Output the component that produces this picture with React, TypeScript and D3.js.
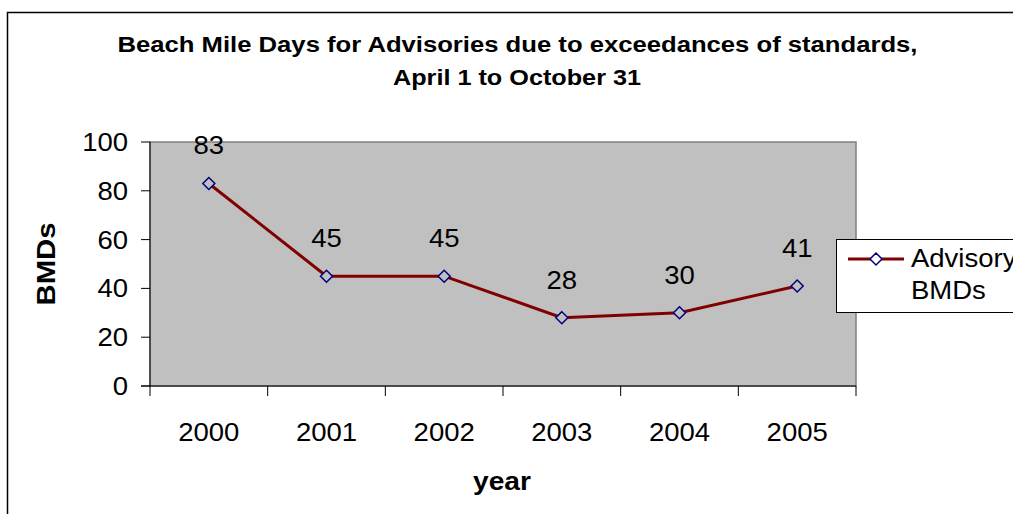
import React from "react";
import * as d3 from "d3";

const years = ["2000", "2001", "2002", "2003", "2004", "2005"];
const advisoryBMDs = [83, 45, 45, 28, 30, 41];
const yTicks = [0, 20, 40, 60, 80, 100];
const titleLines = [
  "Beach Mile Days for Advisories due to exceedances of standards,",
  "April 1 to October 31",
];
const seriesName = ["Advisory", "BMDs"];

const W = 1013;
const H = 514;
const plot = { left: 150, right: 856, top: 142, bottom: 386 };
const FONT = "Arial, 'Liberation Sans', Helvetica, sans-serif";
const SX = 1.1;
const FS = 25;

function T(props: {
  x: number;
  y: number;
  size?: number;
  anchor?: string;
  bold?: boolean;
  sx?: number;
  children: React.ReactNode;
}) {
  const { x, y, size = FS, anchor = "start", bold = false, sx = SX, children } = props;
  return (
    <text
      transform={`translate(${x},${y}) scale(${sx},1)`}
      textAnchor={anchor}
      fontSize={size}
      fontWeight={bold ? "bold" : "normal"}
      fill="#000"
    >
      {children}
    </text>
  );
}

export default function App() {
  const x = d3
    .scaleBand<string>()
    .domain(years)
    .range([plot.left, plot.right])
    .padding(0);
  const y = d3.scaleLinear().domain([0, 100]).range([plot.bottom, plot.top]);
  const cx = (d: string) => (x(d) as number) + x.bandwidth() / 2;

  const line = d3
    .line<number>()
    .x((_, i) => cx(years[i]))
    .y((v) => y(v));

  const diamond = (px: number, py: number, r = 6) =>
    `M${px},${py - r}L${px + r},${py}L${px},${py + r}L${px - r},${py}Z`;

  const boundaries = [...years.map((d) => x(d) as number), plot.right];

  return (
    <svg
      width={W}
      height={H}
      style={{ position: "absolute", left: 0, top: 0, display: "block" }}
      fontFamily={FONT}
    >
      <rect x={0} y={0} width={W} height={H} fill="#fff" />
      {/* outer chart border */}
      <rect x={7.5} y={12.5} width={W + 20} height={H + 20} fill="none" stroke="#000" strokeWidth={1.5} />

      {/* title */}
      <text
        x={517.5}
        y={52}
        textAnchor="middle"
        fontWeight="bold"
        fontSize={22}
        textLength={800}
        lengthAdjust="spacingAndGlyphs"
      >
        {titleLines[0]}
      </text>
      <text
        x={517}
        y={85}
        textAnchor="middle"
        fontWeight="bold"
        fontSize={22}
        textLength={248}
        lengthAdjust="spacingAndGlyphs"
      >
        {titleLines[1]}
      </text>

      {/* plot area */}
      <rect
        x={plot.left}
        y={plot.top}
        width={plot.right - plot.left}
        height={plot.bottom - plot.top}
        fill="#C0C0C0"
        stroke="#808080"
        strokeWidth={1.5}
      />
      {/* axes */}
      <line x1={plot.left} x2={plot.left} y1={plot.top} y2={plot.bottom} stroke="#000" strokeWidth={1} />
      <line x1={plot.left - 9} x2={plot.right} y1={plot.bottom} y2={plot.bottom} stroke="#000" strokeWidth={1} />

      {yTicks.map((t) => (
        <g key={t}>
          <line x1={plot.left - 9} x2={plot.left} y1={y(t)} y2={y(t)} stroke="#000" />
          <T x={plot.left - 22} y={y(t) + 9} anchor="end">
            {t}
          </T>
        </g>
      ))}

      {boundaries.map((b, i) => (
        <line key={i} x1={b} x2={b} y1={plot.bottom} y2={plot.bottom + 10} stroke="#000" />
      ))}
      {years.map((d) => (
        <T key={d} x={cx(d)} y={441} anchor="middle">
          {d}
        </T>
      ))}

      {/* axis titles */}
      <text
        transform={`translate(55,${(plot.top + plot.bottom) / 2}) rotate(-90)`}
        textAnchor="middle"
        fontWeight="bold"
        fontSize={25}
        textLength={83}
        lengthAdjust="spacingAndGlyphs"
      >
        BMDs
      </text>
      <text
        x={502}
        y={490}
        textAnchor="middle"
        fontWeight="bold"
        fontSize={25}
        textLength={58}
        lengthAdjust="spacingAndGlyphs"
      >
        year
      </text>

      {/* series */}
      <path d={line(advisoryBMDs) || ""} fill="none" stroke="#800000" strokeWidth={3} />
      {advisoryBMDs.map((v, i) => (
        <g key={i}>
          <path d={diamond(cx(years[i]), y(v))} fill="#C0C0C0" stroke="#000080" strokeWidth={1.5} />
          <T x={cx(years[i])} y={y(v) - 29} anchor="middle">
            {v}
          </T>
        </g>
      ))}

      {/* legend */}
      <rect x={836.5} y={239.5} width={200} height={73} fill="#fff" stroke="#000" strokeWidth={1} />
      <line x1={848} x2={904} y1={259} y2={259} stroke="#800000" strokeWidth={3} />
      <path d={diamond(876, 259)} fill="#fff" stroke="#000080" strokeWidth={1.5} />
      {seriesName.map((s, i) => (
        <T key={i} x={911} y={267 + i * 32}>
          {s}
        </T>
      ))}
    </svg>
  );
}
